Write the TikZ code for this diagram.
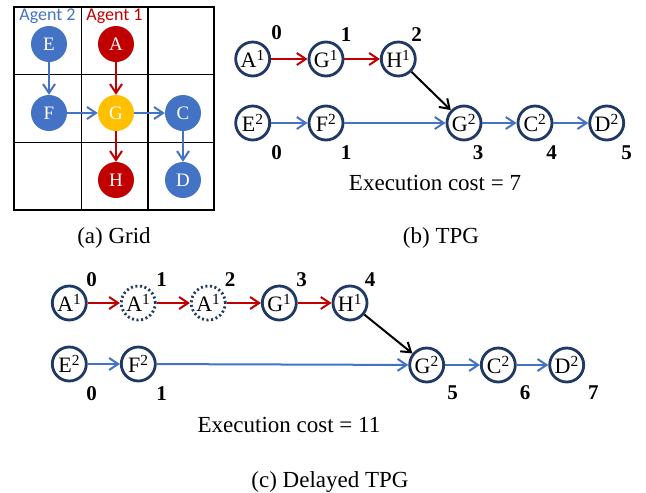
\documentclass[tikz,border=0pt]{standalone}
\usepackage{fontspec}
\setmainfont{Liberation Serif}
\newfontfamily\agentfont{Carlito}
\usetikzlibrary{arrows.meta,positioning}
\definecolor{agentblue}{RGB}{68,114,196}
\definecolor{agentred}{RGB}{192,0,0}
\definecolor{agentgold}{RGB}{255,192,0}
\definecolor{navy}{RGB}{31,56,100}

\begin{document}
\begin{tikzpicture}[x=1pt, y=-1pt,
  gridline/.style={line width=1.6pt, draw=black},
  gnode/.style={circle, minimum size=36pt, inner sep=0pt, text=white, font=\fontsize{19}{19}\selectfont},
  tnode/.style={circle, draw=navy, line width=2.8pt, minimum size=34pt, inner sep=0pt, font=\fontsize{22}{22}\selectfont},
  waitnode/.style={tnode, dash pattern=on 2pt off 2.6pt},
  num/.style={inner sep=0pt, font=\bfseries\fontsize{21}{21}\selectfont},
  captext/.style={inner sep=0pt, font=\fontsize{23}{23}\selectfont},
  agent/.style={inner sep=0pt, font=\agentfont\fontsize{18}{18}\selectfont},
  arr/.style={-{Straight Barb[length=9pt,width=12pt]}, line width=2pt},
  rarr/.style={arr, draw=agentred},
  barr/.style={arr, draw=agentblue},
  karr/.style={arr, draw=black}
]
\useasboundingbox (0,0) rectangle (646,493);

% (a) grid
\draw[gridline] (14,7) rectangle (214,210);
\draw[gridline] (81.5,7) -- (81.5,210) (148,7) -- (148,210);
\draw[gridline] (14,74.5) -- (214,74.5) (14,142.5) -- (214,142.5);
\node[agent, text=agentblue] (ag2) at (47.5,16) {Agent 2};
\node[agent, text=agentred] (ag1) at (114.5,16) {Agent 1};
\node[gnode, fill=agentblue] (gE) at (49,44) {E};
\node[gnode, fill=agentred] (gA) at (116,44) {A};
\node[gnode, fill=agentblue] (gF) at (49,113) {F};
\node[gnode, fill=agentgold] (gG) at (116,113) {G};
\node[gnode, fill=agentblue] (gC) at (183,113) {C};
\node[gnode, fill=agentred] (gH) at (116,180) {H};
\node[gnode, fill=agentblue] (gD) at (183,180) {D};
\draw[barr] (gE) -- (gF);
\draw[rarr] (gA) -- (gG);
\draw[barr] (gF) -- (gG);
\draw[barr] (gG) -- (gC);
\draw[rarr] (gG) -- (gH);
\draw[barr] (gC) -- (gD);
\node[captext] (capa) at (114,238) {(a) Grid};

% (b) TPG
\node[tnode] (bA1) at (252.7,59) {A\textsuperscript{1}};
\node[tnode] (bG1) at (326,59) {G\textsuperscript{1}};
\node[tnode] (bH1) at (398.3,59) {H\textsuperscript{1}};
\node[tnode] (bE2) at (252.7,123) {E\textsuperscript{2}};
\node[tnode] (bF2) at (326,123) {F\textsuperscript{2}};
\node[tnode] (bG2) at (464,123) {G\textsuperscript{2}};
\node[tnode] (bC2) at (535,123) {C\textsuperscript{2}};
\node[tnode] (bD2) at (606.7,123) {D\textsuperscript{2}};
\node[num] (bt0) at (276.7,33) {0};
\node[num] (bt1) at (346,35) {1};
\node[num] (bt2) at (416.7,35) {2};
\node[num] (bb0) at (276.7,153) {0};
\node[num] (bb1) at (346,153) {1};
\node[num] (bb3) at (478,153) {3};
\node[num] (bb4) at (551.7,153) {4};
\node[num] (bb5) at (626.7,153) {5};
\draw[rarr] (bA1) -- (bG1);
\draw[rarr] (bG1) -- (bH1);
\draw[karr] (bH1) -- (bG2);
\draw[barr] (bE2) -- (bF2);
\draw[barr] (bF2) -- (bG2);
\draw[barr] (bG2) -- (bC2);
\draw[barr] (bC2) -- (bD2);
\node[captext] (costb) at (435,183) {Execution cost = 7};
\node[captext] (capb) at (441,238) {(b) TPG};

% (c) delayed TPG
\node[tnode] (cA1) at (69.3,303) {A\textsuperscript{1}};
\node[waitnode] (cW1) at (138.3,303) {A\textsuperscript{1}};
\node[waitnode] (cW2) at (208.3,303) {A\textsuperscript{1}};
\node[tnode] (cG1) at (279.3,303) {G\textsuperscript{1}};
\node[tnode] (cH1) at (350,303) {H\textsuperscript{1}};
\node[tnode] (cE2) at (69.3,364) {E\textsuperscript{2}};
\node[tnode] (cF2) at (138.3,364) {F\textsuperscript{2}};
\node[tnode] (cG2) at (426.7,365) {G\textsuperscript{2}};
\node[tnode] (cC2) at (498.3,365) {C\textsuperscript{2}};
\node[tnode] (cD2) at (566.7,365) {D\textsuperscript{2}};
\node[num] (ct0) at (91.7,280) {0};
\node[num] (ct1) at (161.7,280) {1};
\node[num] (ct2) at (230,280) {2};
\node[num] (ct3) at (301.7,280) {3};
\node[num] (ct4) at (370,280) {4};
\node[num] (cb0) at (91.7,394) {0};
\node[num] (cb1) at (161.7,394) {1};
\node[num] (cb5) at (452.7,393) {5};
\node[num] (cb6) at (525,393) {6};
\node[num] (cb7) at (593.3,393) {7};
\draw[rarr] (cA1) -- (cW1);
\draw[rarr] (cW1) -- (cW2);
\draw[rarr] (cW2) -- (cG1);
\draw[rarr] (cG1) -- (cH1);
\draw[karr] (cH1) -- (cG2);
\draw[barr] (cE2) -- (cF2);
\draw[barr] (cF2) -- (cG2);
\draw[barr] (cG2) -- (cC2);
\draw[barr] (cC2) -- (cD2);
\node[captext] (costc) at (289,425) {Execution cost = 11};
\node[captext] (capc) at (330,482) {(c) Delayed TPG};
\end{tikzpicture}
\end{document}
